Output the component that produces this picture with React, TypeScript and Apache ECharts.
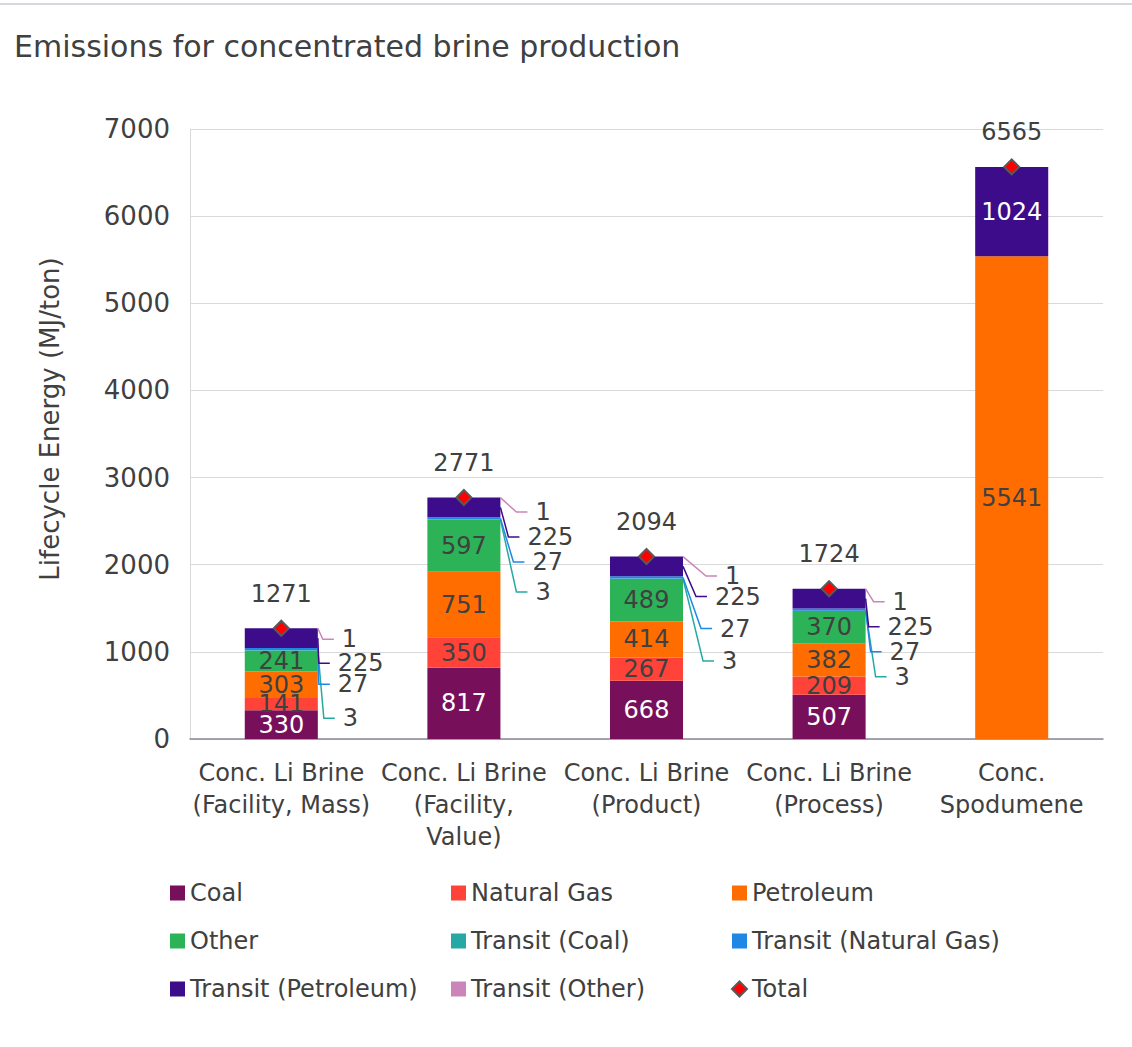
import React, { useEffect, useRef } from 'react';
import * as echarts from 'echarts';

// ---------- data ----------
const categories = [
  'Conc. Li Brine\n(Facility, Mass)',
  'Conc. Li Brine\n(Facility,\nValue)',
  'Conc. Li Brine\n(Product)',
  'Conc. Li Brine\n(Process)',
  'Conc.\nSpodumene',
];
const coal = [330, 817, 668, 507, 0];
const naturalGas = [141, 350, 267, 209, 0];
const petroleum = [303, 751, 414, 382, 5541];
const other = [241, 597, 489, 370, 0];
const transitCoal = [3, 3, 3, 3, 0];
const transitNaturalGas = [27, 27, 27, 27, 0];
const transitPetroleum = [225, 225, 225, 225, 1024];
const transitOther = [1, 1, 1, 1, 0];
const totals = [1271, 2771, 2094, 1724, 6565];
const yMin = 0;
const yMax = 7000;
const yInterval = 1000;

// ---------- style / layout ----------
const FONT = 'DejaVu Sans';
const TEXT = '#404040';
const BAR_FRACTION = 0.4;
const LEADER_LEN = 11;

// outside-label offsets [dx from bar right edge, dy from bar top] per category
const outsideOffsets: Record<string, number[][]> = {
  'Transit (Other)': [[16, 11], [27, 14.5], [34, 19.5], [19, 13]],
  'Transit (Petroleum)': [[12, 35], [19, 39.5], [24, 40], [14, 38]],
  'Transit (Natural Gas)': [[12, 56], [24, 64.5], [29, 72], [16, 63]],
  'Transit (Coal)': [[17, 90], [27, 94.5], [31, 104.5], [21, 88]],
};

const seriesDefs = [
  { name: 'Coal', data: coal, color: '#780F5A', labelColor: '#ffffff' },
  { name: 'Natural Gas', data: naturalGas, color: '#FF4338', labelColor: TEXT },
  { name: 'Petroleum', data: petroleum, color: '#FF6D00', labelColor: TEXT },
  { name: 'Other', data: other, color: '#2DB357', labelColor: TEXT },
  { name: 'Transit (Coal)', data: transitCoal, color: '#26A9A4', labelColor: TEXT },
  { name: 'Transit (Natural Gas)', data: transitNaturalGas, color: '#1F88E5', labelColor: TEXT },
  { name: 'Transit (Petroleum)', data: transitPetroleum, color: '#3D0C8A', labelColor: '#ffffff' },
  { name: 'Transit (Other)', data: transitOther, color: '#CC85B8', labelColor: TEXT },
];

export default function App() {
  const ref = useRef<HTMLDivElement>(null);

  useEffect(() => {
    if (!ref.current) return;
    const chart = echarts.init(ref.current, null, { renderer: 'svg' });

    const barSeries = seriesDefs.map((s) => {
      const offs = outsideOffsets[s.name];
      return {
        type: 'bar',
        name: s.name,
        stack: 'total',
        barWidth: BAR_FRACTION * 100 + '%',
        itemStyle: { color: s.color },
        label: {
          show: true,
          position: 'inside',
          fontSize: 24,
          fontFamily: FONT,
          color: s.labelColor,
        },
        data: s.data.map((v, i) => {
          const isOutside = !!(offs && offs[i]);
          if (v === 0) return { value: v, label: { show: false } };
          if (isOutside) {
            return { value: v, label: { show: true, color: TEXT, padding: [0, 0, 0, 8] } };
          }
          return { value: v };
        }),
        labelLayout: offs
          ? (p: any) => {
              const off = offs[p.dataIndex];
              if (!off) return {};
              let top = p.rect.y;
              try {
                const t = chart.convertToPixel({ yAxisIndex: 0 } as any, totals[p.dataIndex]) as any;
                if (typeof t === 'number' && isFinite(t)) top = t;
              } catch (e) {
                /* ignore */
              }
              return {
                x: p.rect.x + p.rect.width + off[0],
                y: top + off[1],
                align: 'left',
                verticalAlign: 'middle',
              };
            }
          : undefined,
      };
    });

    // leader-line items: [category, segment low, segment high, total, dx, dy, seriesIdx]
    const leaderData: number[][] = [];
    seriesDefs.forEach((s, k) => {
      const offs = outsideOffsets[s.name];
      if (!offs) return;
      offs.forEach((off, i) => {
        let low = 0;
        for (let j = 0; j < k; j++) low += seriesDefs[j].data[i];
        leaderData.push([i, low, low + s.data[i], totals[i], off[0], off[1], k]);
      });
    });

    const leaderSeries = {
      type: 'custom',
      name: 'leaders',
      silent: true,
      z: 5,
      data: leaderData,
      encode: { x: 0, y: 2 },
      renderItem: (params: any, api: any) => {
        const i = api.value(0);
        const lo = api.value(1);
        const hi = api.value(2);
        const tot = api.value(3);
        const dx = api.value(4);
        const dy = api.value(5);
        const k = api.value(6);
        const band = api.size([1, 0])[0];
        const center = api.coord([i, 0])[0];
        const barRight = center + (band * BAR_FRACTION) / 2;
        const segY = (api.coord([i, lo])[1] + api.coord([i, hi])[1]) / 2;
        const topY = api.coord([i, tot])[1];
        const lx = barRight + dx;
        const ly = topY + dy;
        return {
          type: 'polyline',
          shape: { points: [[barRight, segY], [lx - LEADER_LEN, ly], [lx, ly]] },
          style: { stroke: seriesDefs[k].color, lineWidth: 1.5, fill: null },
        };
      },
    };

    const legendText = { fontSize: 24, lineHeight: 28, color: TEXT, fontFamily: FONT };
    const legendCommon = {
      orient: 'vertical',
      top: 874,
      itemWidth: 15,
      itemHeight: 15,
      itemGap: 20,
      selectedMode: false,
      textStyle: legendText,
    };

    chart.setOption({
      animation: false,
      backgroundColor: '#ffffff',
      title: {
        text: 'Emissions for concentrated brine production',
        left: 9,
        top: 26,
        textStyle: { fontSize: 30, fontWeight: 'normal', color: TEXT, fontFamily: FONT },
      },
      graphic: [
        {
          type: 'line',
          shape: { x1: 0, y1: 4, x2: 1132, y2: 4 },
          style: { stroke: '#d6d6dc', lineWidth: 2 },
        },
      ],
      legend: [
        {
          ...legendCommon,
          left: 165,
          data: [
            { name: 'Coal', icon: 'rect' },
            { name: 'Other', icon: 'rect' },
            { name: 'Transit (Petroleum)', icon: 'rect' },
          ],
        },
        {
          ...legendCommon,
          left: 446,
          data: [
            { name: 'Natural Gas', icon: 'rect' },
            { name: 'Transit (Coal)', icon: 'rect' },
            { name: 'Transit (Other)', icon: 'rect' },
          ],
        },
        {
          ...legendCommon,
          left: 726,
          data: [
            { name: 'Petroleum', icon: 'rect' },
            { name: 'Transit (Natural Gas)', icon: 'rect' },
            { name: 'Total', icon: 'diamond' },
          ],
        },
      ],
      grid: { left: 190, right: 29, top: 129, bottom: 308, containLabel: false },
      xAxis: {
        type: 'category',
        data: categories,
        axisLine: { show: true, lineStyle: { color: '#898996', width: 1.5 } },
        axisTick: { show: false },
        axisLabel: {
          interval: 0,
          margin: 18,
          fontSize: 24,
          lineHeight: 32,
          color: TEXT,
          fontFamily: FONT,
        },
      },
      yAxis: {
        type: 'value',
        min: yMin,
        max: yMax,
        interval: yInterval,
        name: 'Lifecycle Energy (MJ/ton)',
        nameLocation: 'middle',
        nameGap: 127,
        nameTextStyle: { fontSize: 26, color: TEXT, fontFamily: FONT, padding: [0, 0, 0, 30] },
        axisLine: { show: true, lineStyle: { color: '#d9d9d9' } },
        axisTick: { show: false },
        splitLine: { show: true, lineStyle: { color: '#d9d9d9', width: 1 } },
        axisLabel: {
          fontSize: 26,
          color: TEXT,
          fontFamily: FONT,
          margin: 20,
          formatter: (v: number) => String(v),
        },
      },
      series: [
        ...barSeries,
        leaderSeries,
        {
          type: 'scatter',
          name: 'Total',
          data: totals,
          symbol: 'diamond',
          symbolSize: 15,
          z: 10,
          itemStyle: { color: '#FF0000', borderColor: '#595959', borderWidth: 2, opacity: 1 },
          label: {
            show: true,
            position: 'top',
            distance: 14,
            fontSize: 24,
            color: TEXT,
            fontFamily: FONT,
          },
        },
      ],
    } as any);

    return () => chart.dispose();
  }, []);

  return (
    <div
      ref={ref}
      style={{ position: 'absolute', left: 0, top: 0, width: 1132, height: 1047, background: '#fff' }}
    />
  );
}
